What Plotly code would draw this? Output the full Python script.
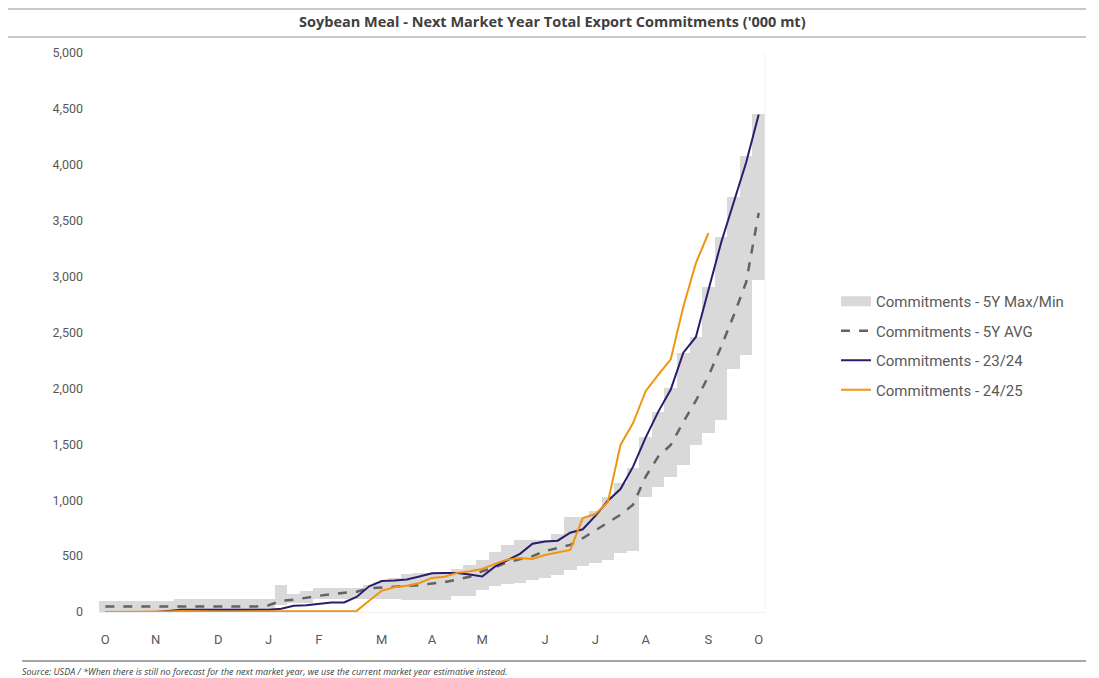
import plotly.graph_objects as go

weeks = list(range(53))
month_ticks = [0, 4, 9, 13, 17, 22, 26, 30, 35, 39, 43, 48, 52]
month_labels = ["O", "N", "D", "J", "F", "M", "A", "M", "J", "J", "A", "S", "O"]

band_max = [95, 95, 95, 95, 95, 95, 115, 115, 115, 115, 115, 115, 115, 115,
            245, 165, 190, 215, 215, 215, 215, 240, 265, 300, 340, 345, 350,
            360, 385, 420, 465, 540, 600, 640, 640, 640, 700, 853, 853, 900,
            1031, 1150, 1288, 1568, 1792, 2000, 2320, 2463, 2910, 3357, 3715,
            4080, 4450]
band_min = [0, 0, 0, 0, 0, 0, 10, 10, 10, 10, 10, 10, 10, 10,
            60, 80, 80, 115, 115, 115, 115, 120, 120, 120, 107, 107, 107,
            110, 140, 140, 200, 230, 250, 260, 290, 300, 330, 380, 410, 438,
            465, 528, 550, 1031, 1120, 1210, 1315, 1490, 1600, 1720, 2170,
            2300, 2970]
avg_5y = [50, 50, 50, 50, 50, 50, 50, 50, 50, 50, 50, 50, 50, 60,
          100, 110, 130, 145, 160, 170, 182, 212, 220, 226, 232, 240, 255,
          268, 290, 315, 365, 400, 445, 475, 500, 545, 575, 600, 660, 730,
          800, 870, 960, 1210, 1390, 1494, 1700, 1890, 2110, 2370, 2650,
          2950, 3570]
c2324 = [0, 0, 0, 0, 0, 10, 20, 20, 20, 20, 20, 20, 20, 20,
         30, 55, 60, 70, 85, 85, 135, 230, 277, 282, 290, 318, 346,
         348, 349, 335, 318, 405, 465, 520, 610, 630, 638, 709, 740, 860,
         995, 1100, 1300, 1560, 1790, 1990, 2320, 2460, 2880, 3300, 3660,
         4020, 4450]
c2425 = [0, 0, 0, 0, 0, 5, 8, 5, 5, 5, 5, 5, 5, 5,
         5, 5, 5, 5, 5, 5, 10, 100, 190, 222, 235, 260, 305,
         316, 350, 365, 385, 430, 470, 482, 475, 510, 535, 555, 840, 876,
         985, 1494, 1690, 1975, 2120, 2260, 2730, 3120, 3390, None, None,
         None, None]

band_height = [hi - lo for hi, lo in zip(band_max, band_min)]

fig = go.Figure()
fig.add_trace(go.Bar(x=weeks, y=band_height, base=band_min, width=1,
                     name="Commitments - 5Y Max/Min", showlegend=False,
                     marker=dict(color="#d9d9d9", line=dict(width=0))))
# legend entry for the band drawn as a wide grey rectangle
fig.add_trace(go.Scatter(x=[None], y=[None], mode="lines", legendgroup="g1",
                         name="Commitments - 5Y Max/Min",
                         line=dict(color="#d9d9d9", width=11)))
fig.add_trace(go.Scatter(x=weeks, y=avg_5y, mode="lines", name="Commitments - 5Y AVG",
                         legendgroup="g2",
                         line=dict(color="#636363", width=2.5, dash="dash")))
fig.add_trace(go.Scatter(x=weeks, y=c2324, mode="lines", name="Commitments - 23/24",
                         legendgroup="g3",
                         line=dict(color="#2f1a6e", width=2)))
fig.add_trace(go.Scatter(x=weeks, y=c2425, mode="lines", name="Commitments - 24/25",
                         legendgroup="g4",
                         line=dict(color="#f0950e", width=2), connectgaps=False))

# page offset (body margin)
OFF = 8
W, H = 1099 - OFF, 678 - OFF
# plot area in page pixels
P_L, P_R, P_T, P_B = 99, 765, 53, 612
L = P_L - OFF
R = W - (P_R - OFF)
T = P_T - OFF
B = H - (P_B - OFF)
pw = P_R - P_L
ph = P_B - P_T

def px(xp):
    return (xp - P_L) / pw

def py(yp):
    return (P_B - yp) / ph

fig.update_layout(
    width=W, height=H,
    margin=dict(l=L, r=R, t=T, b=B),
    plot_bgcolor="white", paper_bgcolor="white",
    bargap=0,
    font=dict(family="Roboto, Arial, sans-serif", color="#595959", size=12),
    showlegend=True,
    legend=dict(x=px(836), y=py(285), xanchor="left", yanchor="top",
                font=dict(size=15, color="#595959"), itemwidth=30,
                tracegroupgap=7, bgcolor="rgba(0,0,0,0)"),
    xaxis=dict(range=[-0.5, 52.5], tickmode="array", tickvals=month_ticks,
               ticktext=month_labels, showgrid=False, zeroline=False,
               showline=True, linecolor="#f0f0f0", linewidth=1,
               ticks="", ticklabelstandoff=15, tickfont=dict(size=13, color="#595959"),
               mirror=False),
    yaxis=dict(range=[0, 5000], tickmode="linear", tick0=0, dtick=500,
               tickformat=",", showgrid=False, zeroline=False, showline=False,
               ticks="", ticklabelstandoff=15, tickfont=dict(size=12.5, color="#595959")),
    shapes=[
        dict(type="line", xref="paper", yref="paper", x0=px(0), x1=px(1086),
             y0=py(9), y1=py(9), line=dict(color="#c8c8c8", width=2)),
        dict(type="line", xref="paper", yref="paper", x0=px(0), x1=px(1086),
             y0=py(37), y1=py(37), line=dict(color="#c8c8c8", width=2)),
        dict(type="line", xref="paper", yref="paper", x0=px(22), x1=px(1086),
             y0=py(661), y1=py(661), line=dict(color="#a6a6a6", width=2)),
        dict(type="line", xref="paper", yref="paper", x0=1, x1=1,
             y0=0, y1=1, line=dict(color="#f3f3f3", width=1)),
    ],
    annotations=[
        dict(text="<b>Soybean Meal - Next Market Year Total Export Commitments ('000 mt)</b>",
             xref="paper", yref="paper", x=px(552), y=py(21), xanchor="center",
             yanchor="middle", showarrow=False,
             font=dict(family="Open Sans, sans-serif", size=14.5, color="#404040")),
        dict(text="<i>Source: USDA / *When there is still no forecast for the next market year, we use the current market year estimative instead.</i>",
             xref="paper", yref="paper", x=px(20), y=py(671), xanchor="left",
             yanchor="middle", showarrow=False,
             font=dict(family="Open Sans, sans-serif", size=9, color="#404040")),
    ],
)

fig.write_html("out.html")
